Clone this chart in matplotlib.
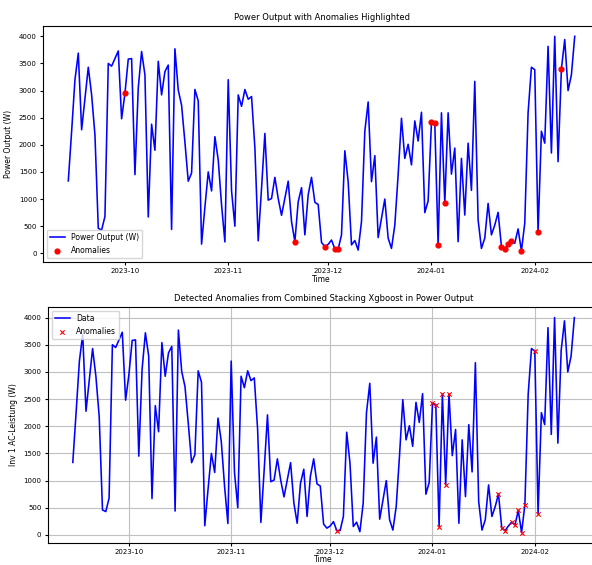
import matplotlib
matplotlib.use('Agg')
import matplotlib.pyplot as plt
import matplotlib.dates as mdates
import pandas as pd

# daily power output, 2023-09-14 .. 2024-02-13
start_date = '2023-09-14'
power = [
    1335, 2250, 3200, 3690, 2277, 2860, 3430, 2920, 2180, 460,
    430, 680, 3500, 3450, 3590, 3730, 2480, 2950, 3580, 3590,
    1450, 3050, 3720, 3290, 670, 2380, 1900, 3540, 2920, 3350,
    3470, 440, 3770, 3010, 2730, 2050, 1330, 1480, 3020, 2810,
    170, 850, 1500, 1150, 2150, 1720, 890, 210, 3200, 1150,
    500, 2920, 2710, 3020, 2840, 2890, 1950, 230, 1200, 2210,
    980, 1010, 1400, 1010, 700, 1010, 1330, 585, 215, 950,
    1210, 340, 1080, 1400, 940, 900, 200, 125, 165, 245,
    80, 80, 340, 1890, 1320, 155, 235, 60, 585, 2250,
    2790, 1320, 1800, 290, 650, 1000, 280, 90, 520, 1450,
    2490, 1750, 2010, 1630, 2440, 2070, 2600, 750, 965, 2420,
    2400, 155, 2590, 925, 2590, 1460, 1940, 215, 1750, 705,
    2030, 1160, 3170, 615, 90, 280, 920, 340, 520, 755,
    125, 80, 165, 235, 185, 450, 45, 555, 2590, 3430,
    3385, 390, 2250, 2030, 3815, 1850, 4000, 1690, 3400, 3940,
    3000, 3290, 4000,
]

# anomalies flagged in each panel
anom_top = ['2023-10-01', '2023-11-21', '2023-11-30', '2023-12-03', '2023-12-04',
            '2024-01-01', '2024-01-02', '2024-01-03', '2024-01-05', '2024-01-22',
            '2024-01-23', '2024-01-24', '2024-01-25', '2024-01-28', '2024-02-02',
            '2024-02-09']
anom_bottom = ['2023-12-03', '2024-01-01', '2024-01-02', '2024-01-03', '2024-01-04',
               '2024-01-05', '2024-01-06', '2024-01-21', '2024-01-22', '2024-01-23',
               '2024-01-25', '2024-01-26', '2024-01-27', '2024-01-28', '2024-01-29',
               '2024-02-01', '2024-02-02']

s = pd.Series(power, index=pd.date_range(start_date, periods=len(power), freq='D'))
top_idx = pd.to_datetime(anom_top)
bot_idx = pd.to_datetime(anom_bottom)

plt.rcParams['font.size'] = 5.5

fig = plt.figure(figsize=(5.92, 5.65), dpi=100)
ax1 = fig.add_axes([0.0726, 0.537, 0.941, 0.4177])
ax2 = fig.add_axes([0.0806, 0.0385, 0.932, 0.4184])

# top panel
ax1.plot(s.index, s.values, color='blue', lw=1.15, label='Power Output (W)')
ax1.scatter(top_idx, s[top_idx].values, color='red', s=12, zorder=3, label='Anomalies')
ax1.set_title('Power Output with Anomalies Highlighted', fontsize=6, pad=4)
ax1.set_xlabel('Time', labelpad=1)
ax1.set_ylabel('Power Output (W)')
ax1.legend(loc='lower left', fontsize=5.5)

# bottom panel
ax2.plot(s.index, s.values, color='blue', lw=1.15, label='Data')
ax2.scatter(bot_idx, s[bot_idx].values, color='red', marker='x', s=10, lw=0.8,
            zorder=3, label='Anomalies')
ax2.set_title('Detected Anomalies from Combined Stacking Xgboost in Power Output',
              fontsize=6, pad=4)
ax2.set_xlabel('Time', labelpad=0)
ax2.set_ylabel('Inv 1 AC-Leistung (W)')
ax2.legend(loc='upper left', fontsize=5.5)
ax2.grid(True, color='#c0c0c0', lw=0.8)

for ax in (ax1, ax2):
    ax.xaxis.set_major_locator(mdates.MonthLocator())
    ax.xaxis.set_major_formatter(mdates.DateFormatter('%Y-%m'))
    ax.tick_params(labelsize=5, length=2.5, pad=2)

fig.savefig('out.png', dpi=100)
